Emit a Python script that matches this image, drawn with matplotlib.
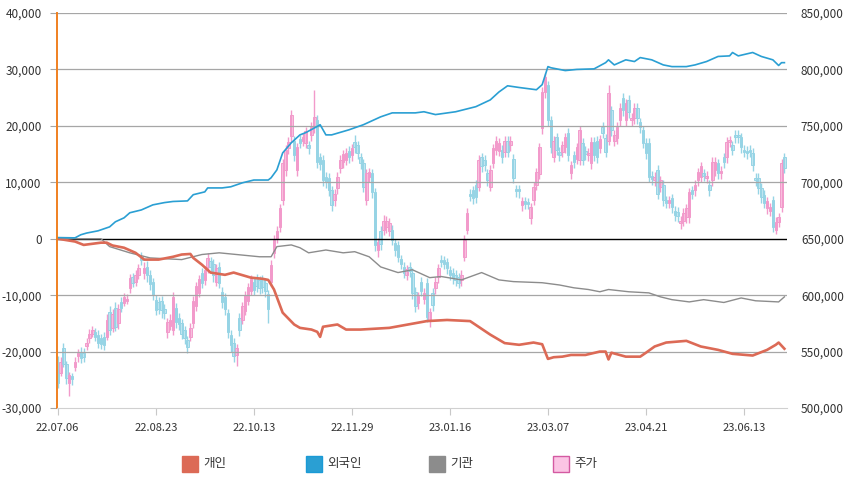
import matplotlib
matplotlib.use("Agg")
import matplotlib.pyplot as plt
from matplotlib.patches import Rectangle
from matplotlib.ticker import FuncFormatter
import numpy as np

plt.rcParams['font.family'] = ['Noto Sans CJK KR', 'DejaVu Sans']

# daily candles, price in thousand won
opens = [532, 531, 553, 539, 522, 528, 536, 546, 550, 549,
         555, 562, 566, 567, 565, 562, 563, 563, 585, 571,
         589, 575, 594, 593, 595, 606, 616, 612, 618, 634,
         620, 625, 618, 612, 596, 594, 595, 588, 567, 573,
         569, 589, 580, 575, 569, 560, 563, 575, 590, 602,
         620, 613, 625, 630, 628, 612, 625, 603, 598, 584,
         565, 558, 547, 580, 578, 586, 595, 604, 612, 615,
         613, 614, 611, 601, 612, 637, 650, 660, 684, 711,
         730, 741, 737, 711, 738, 737, 735, 733, 742, 749,
         755, 722, 720, 705, 704, 693, 684, 695, 713, 718,
         720, 728, 724, 736, 733, 722, 717, 684, 705, 708,
         691, 640, 657, 658, 660, 657, 658, 646, 644, 632,
         625, 618, 625, 620, 603, 593, 612, 597, 611, 578,
         602, 606, 616, 631, 631, 629, 622, 620, 618, 616,
         613, 634, 658, 690, 693, 698, 696, 722, 720, 708,
         696, 717, 729, 728, 729, 727, 737, 733, 721, 694,
         694, 680, 683, 682, 668, 684, 698, 707, 748, 780,
         786, 755, 722, 740, 727, 727, 731, 744, 708, 724,
         721, 720, 735, 728, 724, 717, 736, 737, 730, 749,
         739, 737, 764, 737, 739, 755, 775, 755, 773, 755,
         757, 766, 753, 746, 735, 735, 706, 702, 711, 696,
         698, 684, 682, 686, 675, 674, 664, 666, 669, 669,
         693, 693, 702, 705, 708, 704, 698, 702, 711, 717,
         708, 722, 722, 736, 733, 742, 742, 740, 729, 728,
         729, 726, 704, 704, 695, 689, 677, 675, 684, 658,
         665, 678, 722]
closes = [522, 541, 539, 527, 529, 526, 541, 549, 544, 545,
          558, 566, 569, 563, 558, 557, 556, 578, 569, 583,
          572, 588, 589, 598, 597, 615, 611, 618, 624, 631,
          624, 618, 610, 600, 587, 588, 587, 584, 576, 578,
          598, 576, 574, 566, 562, 554, 571, 595, 608, 614,
          611, 622, 633, 625, 618, 624, 611, 594, 588, 567,
          556, 546, 553, 569, 590, 600, 607, 614, 605, 608,
          606, 607, 604, 588, 627, 649, 657, 677, 717, 729,
          736, 760, 724, 731, 735, 740, 745, 730, 749, 758,
          718, 716, 702, 700, 693, 680, 690, 705, 720, 725,
          726, 722, 730, 731, 726, 717, 696, 708, 709, 691,
          644, 647, 645, 666, 666, 664, 649, 640, 634, 628,
          620, 623, 621, 602, 590, 599, 604, 602, 581, 585,
          591, 612, 624, 629, 628, 624, 618, 615, 613, 611,
          618, 649, 673, 688, 686, 687, 720, 714, 715, 702,
          711, 730, 737, 735, 722, 737, 727, 737, 704, 692,
          692, 683, 681, 681, 678, 696, 709, 731, 780, 793,
          755, 731, 737, 729, 724, 733, 740, 724, 715, 718,
          731, 746, 720, 725, 726, 736, 724, 722, 738, 744,
          727, 779, 746, 742, 749, 766, 764, 770, 762, 757,
          766, 757, 749, 735, 726, 705, 703, 705, 690, 702,
          684, 682, 684, 678, 671, 670, 666, 673, 677, 691,
          690, 698, 709, 714, 706, 706, 693, 718, 718, 708,
          710, 718, 736, 737, 729, 740, 740, 731, 727, 726,
          727, 715, 702, 695, 687, 682, 683, 678, 660, 665,
          669, 717, 713]
highs = [546, 545, 558, 542, 532, 531, 545, 552, 554, 553,
         562, 570, 573, 571, 569, 566, 567, 583, 590, 588,
         594, 592, 598, 602, 601, 619, 620, 622, 628, 638,
         629, 630, 622, 615, 600, 598, 599, 592, 580, 583,
         603, 593, 584, 579, 573, 564, 575, 599, 612, 618,
         624, 626, 637, 634, 632, 628, 629, 607, 602, 588,
         569, 562, 557, 584, 594, 604, 611, 618, 616, 619,
         617, 618, 615, 605, 631, 653, 661, 681, 721, 733,
         740, 764, 741, 735, 742, 744, 749, 737, 753, 782,
         760, 726, 724, 709, 708, 697, 694, 709, 724, 729,
         730, 732, 734, 742, 737, 726, 721, 712, 713, 712,
         695, 651, 661, 671, 670, 668, 662, 650, 648, 636,
         629, 627, 629, 624, 607, 603, 616, 606, 615, 589,
         606, 616, 628, 636, 635, 633, 626, 624, 622, 620,
         622, 653, 677, 694, 697, 702, 724, 726, 724, 712,
         715, 734, 741, 739, 733, 741, 741, 741, 725, 698,
         698, 687, 687, 686, 682, 700, 713, 735, 784, 797,
         790, 759, 741, 744, 731, 737, 744, 748, 719, 728,
         735, 750, 739, 732, 730, 740, 740, 741, 742, 753,
         743, 786, 768, 746, 753, 770, 779, 774, 777, 761,
         770, 770, 757, 750, 739, 739, 710, 709, 715, 706,
         702, 688, 688, 690, 679, 678, 670, 677, 681, 695,
         697, 702, 713, 718, 712, 710, 702, 722, 722, 721,
         714, 726, 740, 741, 737, 746, 746, 744, 733, 732,
         733, 730, 708, 708, 699, 693, 687, 682, 688, 669,
         673, 721, 726]
lows = [518, 528, 536, 521, 511, 520, 533, 541, 540, 541,
        551, 558, 563, 559, 553, 552, 551, 560, 565, 567,
        568, 570, 585, 590, 592, 602, 607, 608, 614, 627,
        614, 612, 605, 596, 582, 583, 580, 579, 562, 569,
        565, 571, 569, 561, 557, 549, 559, 571, 586, 598,
        606, 609, 620, 620, 612, 608, 606, 589, 582, 562,
        550, 541, 537, 564, 574, 582, 591, 600, 600, 603,
        601, 602, 598, 575, 608, 633, 646, 656, 680, 706,
        725, 736, 719, 706, 730, 732, 730, 725, 737, 744,
        713, 711, 697, 695, 688, 675, 679, 690, 708, 713,
        715, 717, 719, 726, 721, 712, 691, 680, 700, 686,
        639, 634, 640, 653, 655, 652, 644, 635, 629, 623,
        615, 613, 616, 597, 585, 588, 599, 592, 576, 572,
        586, 601, 611, 625, 623, 619, 613, 610, 608, 606,
        608, 630, 654, 683, 681, 682, 692, 709, 710, 697,
        692, 713, 724, 723, 717, 722, 722, 728, 699, 687,
        686, 675, 676, 676, 663, 680, 693, 703, 743, 775,
        750, 726, 718, 724, 719, 722, 726, 719, 703, 713,
        716, 715, 715, 720, 719, 712, 719, 717, 726, 739,
        722, 733, 741, 732, 734, 750, 759, 750, 757, 750,
        752, 752, 744, 730, 721, 700, 698, 697, 685, 691,
        679, 677, 677, 673, 666, 665, 659, 661, 664, 664,
        685, 688, 697, 700, 701, 699, 688, 697, 706, 703,
        703, 713, 717, 731, 724, 735, 735, 726, 722, 721,
        722, 710, 697, 690, 682, 677, 672, 670, 656, 654,
        660, 674, 708]

# cumulative net buying (left axis), sampled along the trading-day index
ind_x = [0, 6, 9, 15, 17, 19, 23, 27, 30, 35, 40, 43, 46, 47, 50, 53, 58, 61,
         67, 71, 73, 75, 78, 82, 84, 88, 90, 91, 92, 97, 100, 105, 115, 128,
         135, 143, 150, 155, 160, 165, 168, 170, 172, 175, 178, 183, 188, 190,
         191, 192, 197, 202, 204, 207, 211, 218, 223, 229, 234, 241, 246, 249,
         250, 252]
ind_v = [0, -500, -1100, -700, -700, -1200, -1600, -2500, -3700, -3700,
         -3200, -2800, -2700, -3400, -4600, -6000, -6400, -6000, -6900, -7100,
         -7300, -9000, -13100, -15200, -15800, -16100, -16500, -17400, -15600,
         -15200, -16100, -16100, -15800, -14600, -14400, -14600, -17000,
         -18500, -18800, -18400, -18700, -21300, -21000, -20900, -20600,
         -20600, -20000, -20000, -21400, -20200, -20900, -20900, -20200,
         -19100, -18400, -18100, -19100, -19700, -20400, -20700, -19700,
         -18800, -18400, -19500]
for_x = [0, 6, 8, 10, 14, 18, 20, 23, 25, 29, 33, 37, 40, 45, 47, 51, 52, 57,
         60, 64, 68, 73, 74, 76, 78, 81, 84, 86, 90, 91, 93, 95, 101, 106, 112,
         116, 124, 127, 131, 138, 145, 150, 153, 156, 160, 166, 168, 170, 171,
         176, 180, 186, 190, 191, 193, 197, 200, 202, 206, 210, 213, 218, 221,
         225, 229, 233, 234, 236, 241, 244, 248, 250, 251, 252]
for_v = [200, 150, 700, 1000, 1400, 2100, 3000, 3700, 4600, 5100, 6000, 6400,
         6600, 6700, 7800, 8300, 9000, 9000, 9200, 9900, 10400, 10400, 10800,
         12200, 15200, 17000, 18400, 18800, 19900, 20200, 18400, 18400, 19300,
         20200, 21600, 22300, 22300, 22500, 22000, 22500, 23400, 24600, 26000,
         27100, 26800, 26400, 27300, 30500, 30300, 29800, 30000, 30100, 31200,
         31700, 30800, 31700, 31400, 32100, 31700, 30800, 30500, 30500, 30800,
         31400, 32300, 32400, 33000, 32400, 33000, 32300, 31700, 30700, 31200,
         31200]
inst_x = [0, 15, 18, 25, 32, 43, 50, 56, 70, 74, 76, 81, 84, 87, 93, 99, 103,
          108, 112, 118, 123, 129, 133, 140, 147, 153, 158, 168, 174, 179, 184,
          188, 191, 198, 205, 209, 213, 219, 224, 231, 237, 242, 250, 252]
inst_v = [0, 0, -1400, -2500, -3400, -3700, -2800, -2500, -3200, -3200,
          -1400, -1100, -1600, -2500, -2000, -2500, -2300, -3200, -5000, -6000,
          -5500, -6900, -6700, -7300, -6000, -7300, -7600, -7800, -8200, -8700,
          -9000, -9400, -9000, -9400, -9600, -10300, -10800, -11200, -10800,
          -11300, -10500, -11000, -11200, -10300]

tick_pos = [0, 34, 68, 102, 136, 170, 204, 238]
tick_lab = ['22.07.06', '22.08.23', '22.10.13', '22.11.29',
            '23.01.16', '23.03.07', '23.04.21', '23.06.13']
legend_labels = ['개인', '외국인', '기관', '주가']

UP_FILL, UP_EDGE = '#fac8e2', '#f29acb'
DN_FILL, DN_EDGE = '#c8eaf3', '#96d4e5'
C_IND, C_FOR, C_INST = '#dc6a56', '#2a9fd3', '#8c8c8c'

W, H = 851, 482
fig = plt.figure(figsize=(W / 100, H / 100), dpi=100)
ax = fig.add_axes([57 / W, 1 - 408 / H, (787 - 57) / W, (408 - 13) / H])
ax2 = ax.twinx()
ax.set_zorder(2)
ax.patch.set_visible(False)
ax2.set_zorder(1)

# candles on the price axis
o = np.array(opens) * 1000
c = np.array(closes) * 1000
hi = np.array(highs) * 1000
lo = np.array(lows) * 1000
x = np.arange(len(o))
up = c >= o
edge = [UP_EDGE if u else DN_EDGE for u in up]
fill = [UP_FILL if u else DN_FILL for u in up]
ax2.vlines(x, lo, hi, colors=edge, linewidth=1.0)
body = np.maximum(np.abs(c - o), 1500)
ax2.bar(x, body, 0.86, bottom=np.minimum(o, c), color=fill, edgecolor=edge,
        linewidth=0.7)
ax2.set_ylim(500000, 850000)
ax2.set_yticks(range(500000, 850001, 50000))

# flow lines
ax.plot(inst_x, inst_v, color=C_INST, lw=1.0)
ax.plot(ind_x, ind_v, color=C_IND, lw=1.9)
ax.plot(for_x, for_v, color=C_FOR, lw=1.2)

ax.set_xlim(-0.25, 252.9)
ax.set_ylim(-30000, 40000)
ax.set_yticks(range(-30000, 40001, 10000))
fmt = FuncFormatter(lambda v, p: f'{int(v):,}')
ax.yaxis.set_major_formatter(fmt)
ax2.yaxis.set_major_formatter(fmt)

for yv in range(-20000, 40001, 10000):
    ax.axhline(yv, color='black' if yv == 0 else '#a6a6a6', lw=1.0 if yv == 0 else 0.9,
               zorder=0)

ax.set_xticks(tick_pos)
ax.set_xticklabels(tick_lab)
ax.tick_params(axis='x', length=5, color='#c8c8c8', labelsize=8, labelcolor='#333333', pad=6)
ax.tick_params(axis='y', length=5, color='#a6a6a6', labelsize=8.5, labelcolor='#333333', pad=6)
ax2.tick_params(axis='y', length=0, labelsize=8.5, labelcolor='#333333', pad=10)

for s in ['top', 'right']:
    ax.spines[s].set_visible(False)
for s in ax2.spines.values():
    s.set_visible(False)
ax.spines['left'].set_color('#f08020')
ax.spines['left'].set_linewidth(1.4)
ax.spines['bottom'].set_color('#d0d0d0')

# legend
leg_cols = [(C_IND, C_IND), (C_FOR, '#1a9ad6'), (C_INST, C_INST), ('#fbc4e4', '#d45aa2')]
leg_x = [182, 306, 429, 553]
for (fc, ec), lx, lab in zip(leg_cols, leg_x, legend_labels):
    fig.add_artist(Rectangle((lx / W, 1 - 472 / H), 16 / W, 16 / H, facecolor=fc,
                             edgecolor=ec, lw=1.0, transform=fig.transFigure))
    fig.text((lx + 21) / W, 1 - 464 / H, lab, fontsize=9, color='#333333', va='center')

fig.savefig('out.png', dpi=100)
